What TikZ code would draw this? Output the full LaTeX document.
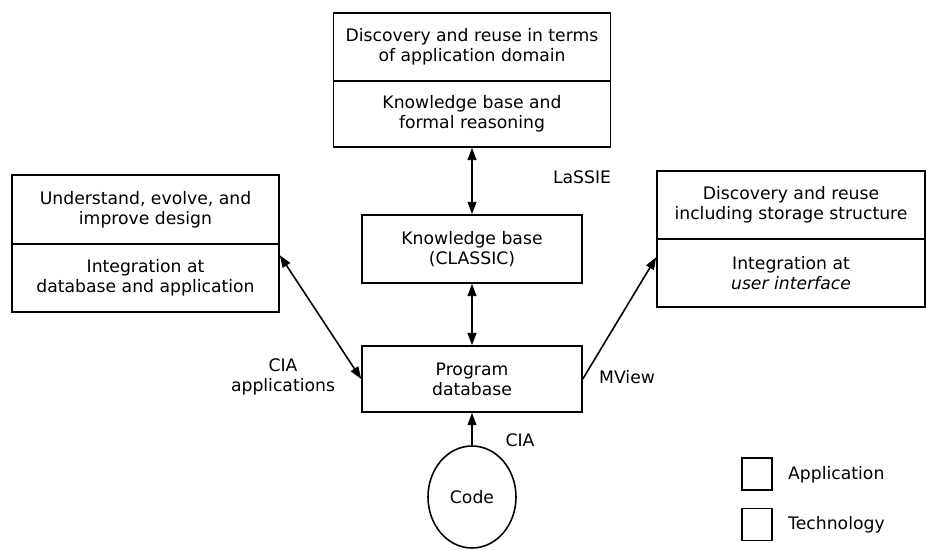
\documentclass[tikz,border=0pt]{standalone}
\usepackage{fontspec}
\setmainfont{DejaVu Sans}
\usetikzlibrary{arrows.meta,shapes.geometric,calc}

\begin{document}
\begin{tikzpicture}[x=0.02cm,y=-0.02cm,
		every node/.style={font=\fontsize{9.8}{11.3}\selectfont},
		box/.style={draw,line width=0.9pt,align=center,inner sep=2pt},
		conn/.style={line width=0.9pt,-{Triangle[length=7pt,width=5pt]}},
		dconn/.style={line width=0.9pt,{Triangle[length=7pt,width=5pt]}-{Triangle[length=7pt,width=5pt]}}]
					\useasboundingbox (0,0) rectangle (927,550);
				
					\node[box,minimum width=5.54cm,minimum height=1.36cm] (appT) at (472,47) {Discovery and reuse in terms\\of application domain};
					\node[box,minimum width=5.54cm,minimum height=1.32cm] (techT) at (472,114) {Knowledge base and\\formal reasoning};
					\node[box,minimum width=4.4cm,minimum height=1.36cm] (kb) at (472,249) {Knowledge base\\(CLASSIC)};
					\node[box,minimum width=4.4cm,minimum height=1.32cm] (pdb) at (472,379) {Program\\database};
					\node[draw,line width=0.9pt,ellipse,minimum width=1.76cm,minimum height=2.04cm] (code) at (472,497) {Code};
				
					\node[box,minimum width=5.34cm,minimum height=1.38cm] (appL) at (145.5,209.5) {Understand, evolve, and\\improve design};
					\node[box,minimum width=5.34cm,minimum height=1.36cm] (techL) at (145.5,278) {Integration at\\database and application};
					\node[box,minimum width=5.36cm,minimum height=1.36cm] (appR) at (791,205) {Discovery and reuse\\including storage structure};
					\node[box,minimum width=5.36cm,minimum height=1.36cm] (techR) at (791,273) {Integration at\\\textit{user interface}};
				
					\draw[dconn] (techT.south) -- (kb.north);
					\draw[dconn] (kb.south) -- (pdb.north);
					\draw[conn] (code.north) -- (pdb.south);
					\draw[dconn] ([yshift=-0.24cm]techL.north east) -- (pdb.west);
					\draw[conn] (pdb.east) -- ([yshift=-0.38cm]techR.north west);
				
					\node (lassie) at (582,177) {LaSSIE};
					\node[align=center] (ciaapp) at (283,377) {CIA\\applications};
					\node[anchor=west] (mview) at (593,377) {MView};
					\node (cia) at (520,440) {CIA};
				
					\node[box,minimum width=0.6cm,minimum height=0.64cm] (keyA) at (757,474) {};
					\node[box,minimum width=0.6cm,minimum height=0.64cm] (keyT) at (757,524.5) {};
					\node[anchor=west] at (782,475) {Application};
					\node[anchor=west] at (782,525) {Technology};
				\end{tikzpicture}
\end{document}
